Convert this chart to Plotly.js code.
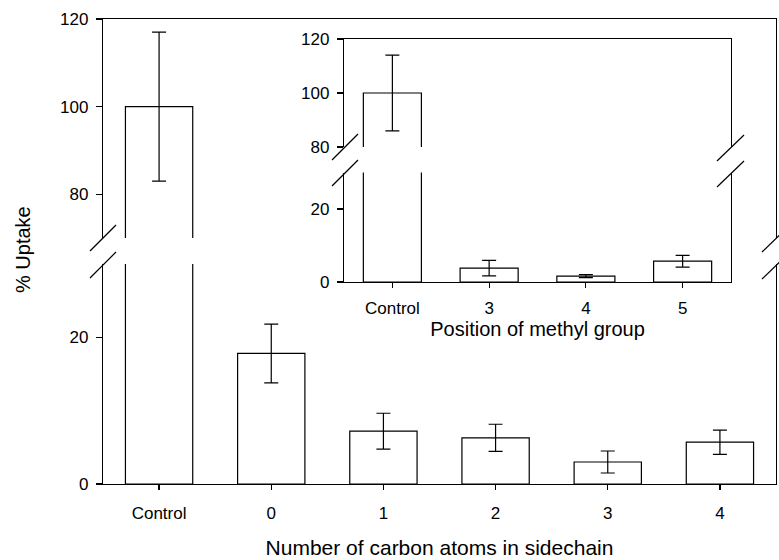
<!DOCTYPE html>
<html>
<head>
<meta charset="utf-8">
<script src="https://cdn.plot.ly/plotly-3.0.1.min.js"></script>
<style>html,body{margin:0;padding:0;background:#fff;}#chart{width:779px;height:560px;}</style>
</head>
<body>
<div id="chart"></div>
<script>
// Main chart data
const categories = ['Control', '0', '1', '2', '3', '4'];
const uptake = [100, 17.8, 7.2, 6.3, 3.0, 5.7];
const uptakeErr = [17, 4, 2.45, 1.85, 1.5, 1.65];

// Inset data
const insetCategories = ['Control', '3', '4', '5'];
const insetUptake = [100, 3.8, 1.6, 5.7];
const insetErr = [14, 2.1, 0.4, 1.6];

// Tick values for the broken axes
const mainLowTicks = [0, 20];
const mainHighTicks = [80, 100, 120];
const insetLowTicks = [0, 20];
const insetHighTicks = [80, 100, 120];

const W = 779, H = 560;
const px = v => v / W;
const py = v => 1 - v / H;

function barTrace(x, y, err, xa, ya) {
  return {
    type: 'bar', x: x, y: y, xaxis: xa, yaxis: ya, width: 0.6,
    marker: {color: '#ffffff', line: {color: '#000000', width: 1.2}},
    error_y: {type: 'data', array: err, visible: true, color: '#000000', thickness: 1.2, width: 7},
    hoverinfo: 'skip', showlegend: false
  };
}

const data = [
  barTrace(categories, uptake, uptakeErr, 'x', 'y'),
  barTrace(categories, uptake, uptakeErr, 'x2', 'y2'),
  barTrace(insetCategories, insetUptake, insetErr, 'x3', 'y3'),
  barTrace(insetCategories, insetUptake, insetErr, 'x4', 'y4')
];

const font = {family: 'Liberation Sans, Arial, Helvetica, sans-serif', color: '#000000'};
const tickF = {family: font.family, color: '#000', size: 17};

function yax(dom, range, ticks, anchor) {
  return {
    domain: dom, range: range, anchor: anchor, tickmode: 'array', tickvals: ticks,
    showline: true, mirror: true, linecolor: '#000', linewidth: 1.2,
    ticks: 'outside', ticklen: 6, tickcolor: '#000', tickwidth: 1.2,
    showgrid: false, zeroline: false, tickfont: tickF, ticklabelstandoff: 4, fixedrange: true
  };
}
function xaxLow(dom, n, anchor, title, standoff, lblOff, tsize) {
  return {
    domain: dom, anchor: anchor, type: 'category', range: [-0.5, n - 0.5],
    showline: true, linecolor: '#000', linewidth: 1.2,
    ticks: 'outside', ticklen: 5, tickcolor: '#000', tickwidth: 1.2,
    showgrid: false, zeroline: false, tickfont: {family: font.family, color: '#000', size: 17},
    ticklabelstandoff: lblOff,
    title: {text: title, font: {family: font.family, color: '#000', size: tsize}, standoff: standoff},
    fixedrange: true
  };
}
function xaxHigh(dom, n, anchor, match) {
  return {
    domain: dom, anchor: anchor, type: 'category', range: [-0.5, n - 0.5], matches: match,
    side: 'top', showline: true, linecolor: '#000', linewidth: 1.2,
    ticks: '', showticklabels: false, showgrid: false, zeroline: false, fixedrange: true
  };
}

const mainX = [px(103), px(776)];
const insetX = [px(344), px(731)];

function seg(x0, y0, x1, y1) {
  return {type: 'line', xref: 'paper', yref: 'paper', x0: px(x0), y0: py(y0), x1: px(x1), y1: py(y1),
          line: {color: '#000', width: 1.2}};
}

const layout = {
  width: W, height: H,
  margin: {l: 0, r: 0, t: 0, b: 0},
  paper_bgcolor: '#ffffff', plot_bgcolor: '#ffffff',
  font: font, showlegend: false, bargap: 0.4,
  xaxis: xaxLow(mainX, categories.length, 'y', 'Number of carbon atoms in sidechain', 18, 8, 21),
  yaxis: yax([py(484), py(264)], [0, 30], mainLowTicks, 'x'),
  xaxis2: xaxHigh(mainX, categories.length, 'y2', 'x'),
  yaxis2: yax([py(238), py(19)], [70, 120], mainHighTicks, 'x2'),
  xaxis3: xaxLow(insetX, insetCategories.length, 'y3', 'Position of methyl group', 1, 5, 20),
  yaxis3: yax([py(282), py(172.5)], [0, 30], insetLowTicks, 'x3'),
  xaxis4: xaxHigh(insetX, insetCategories.length, 'y4', 'x3'),
  yaxis4: yax([py(147), py(39)], [80, 120], insetHighTicks, 'x4'),
  shapes: [
    seg(90, 251, 116, 225), seg(90, 278, 116, 252),
    seg(762, 252, 789, 226), seg(762, 279, 789, 253),
    seg(332, 160, 358, 134), seg(332, 186, 358, 160),
    seg(717, 161, 744, 135), seg(717, 187, 744, 161)
  ],
  annotations: [
    {text: '% Uptake', xref: 'paper', yref: 'paper', x: px(23), y: py(250), textangle: -90,
     showarrow: false, font: {family: font.family, color: '#000', size: 20}, xanchor: 'center', yanchor: 'middle'}
  ]
};

Plotly.newPlot('chart', data, layout, {displayModeBar: false, staticPlot: true});
</script>
</body>
</html>
